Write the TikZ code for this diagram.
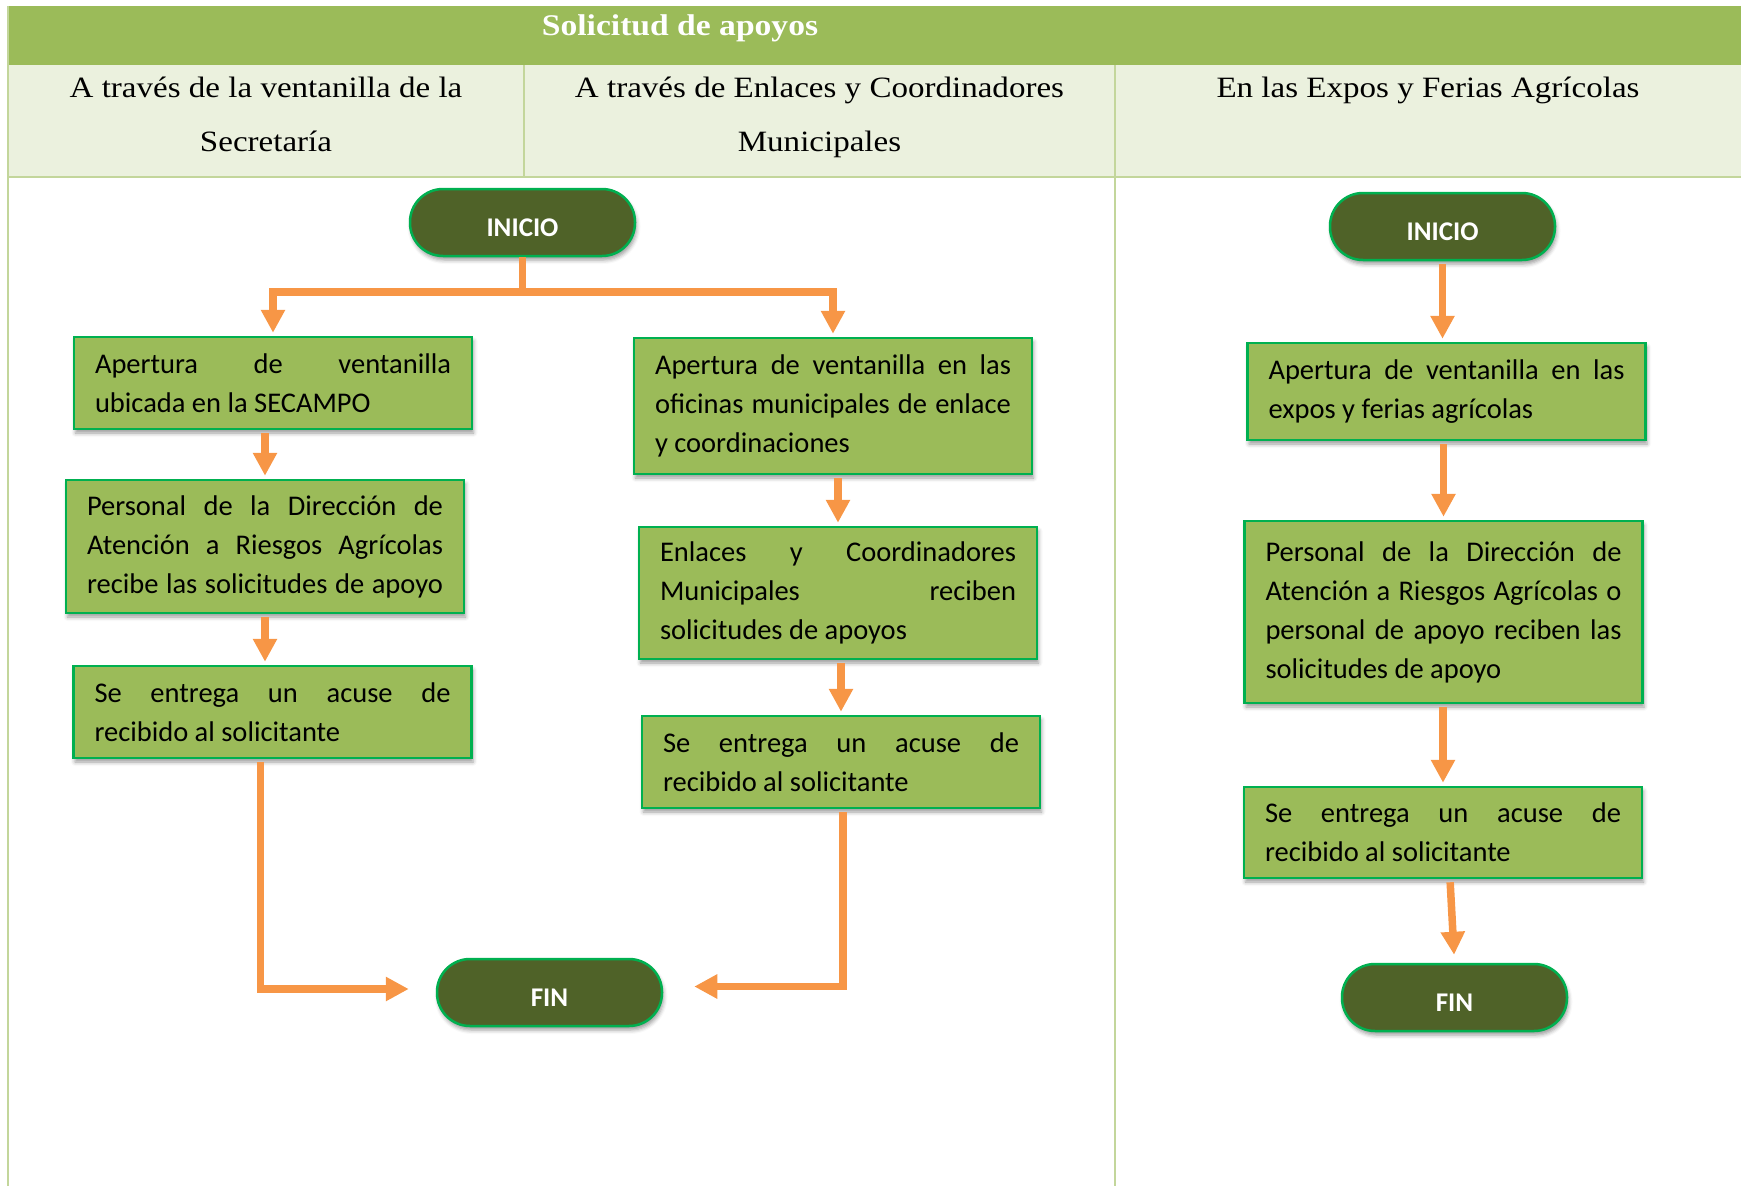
\documentclass[tikz,border=0pt]{standalone}
\usepackage{fontspec}
\setmainfont{Carlito}
\newfontfamily\headfont[FakeStretch=1.12]{Liberation Serif}
\usetikzlibrary{arrows.meta,shadows.blur,calc}

\definecolor{bandgreen}{HTML}{9BBB59}
\definecolor{paleband}{HTML}{EBF1DE}
\definecolor{gridline}{HTML}{C3D69B}
\definecolor{boxfill}{HTML}{9BBB59}
\definecolor{boxline}{HTML}{00B050}
\definecolor{termfill}{HTML}{4F6228}
\definecolor{flow}{HTML}{F79646}

% one justified line / one plain line inside a step box
\newcommand{\jline}[1]{\noindent\hbox to \hsize{\spaceskip=0pt\relax #1}\par}
\newcommand{\lline}[1]{\noindent\hbox to \hsize{#1\hfil}\par}

\tikzset{
  softshadow/.style={blur shadow={shadow xshift=1.5pt, shadow yshift=-4pt,
      shadow blur radius=4pt, shadow opacity=40}},
  stepbox/.style={rectangle, fill=boxfill, draw=boxline, line width=2.5pt,
    text width=356pt, inner xsep=21pt, inner ysep=0pt, align=justify,
    font=\fontsize{28.5}{39}\selectfont,
    text=black, softshadow},
  terminal/.style={rectangle, rounded corners=33pt, fill=termfill, draw=boxline,
    line width=2.5pt, minimum width=225pt, minimum height=67pt, inner sep=0pt,
    text height=28.8pt, text depth=0pt,
    text=white, font=\fontsize{27}{30}\selectfont\bfseries, softshadow},
  flowline/.style={draw=flow, line width=7.5pt},
  flowarrow/.style={flowline, -{Triangle[width=23pt,length=23pt]},
    shorten <=3pt, shorten >=3pt},
  headtext/.style={font=\headfont\fontsize{29.5}{30}\selectfont, anchor=base,
    inner sep=0pt, text=black},
  titletext/.style={font=\headfont\bfseries\fontsize{30}{32}\selectfont,
    anchor=base, inner sep=0pt, text=white},
  rule/.style={draw=gridline, line width=2pt},
}

\begin{document}
\begin{tikzpicture}[x=1pt, y=-1pt]
  \useasboundingbox (0,0) rectangle (1741,1186);

  % table header bands
  \fill[bandgreen] (8,6) rectangle (1741,65);
  \fill[paleband] (8,65) rectangle (1741,177);
  \draw[rule] (8,6) -- (8,1186);
  \draw[rule] (8,177) -- (1741,177);
  \draw[rule] (524,65) -- (524,177);
  \draw[rule] (1115,65) -- (1115,1186);

  \node[titletext] (title) at (680,35) {Solicitud de apoyos};
  \node[headtext] (colAa) at (266,97) {A través de la ventanilla de la};
  \node[headtext] (colAb) at (266,151) {Secretaría};
  \node[headtext] (colBa) at (819.5,97) {A través de Enlaces y Coordinadores};
  \node[headtext] (colBb) at (819.5,151) {Municipales};
  \node[headtext] (colC) at (1428,97) {En las Expos y Ferias Agrícolas};

  % left and middle flows
  \node[terminal] (iniL) at (522.5,222.5) {INICIO};
  \node[stepbox, minimum height=92pt] (L1) at (273,383)
    {\jline{Apertura de ventanilla}\lline{ubicada en la SECAMPO}};
  \node[stepbox, minimum height=133pt] (L2) at (265,546.5)
    {\jline{Personal de la Dirección de}\jline{Atención a Riesgos Agrícolas}\jline{recibe las solicitudes de apoyo}};
  \node[stepbox, minimum height=92pt] (L3) at (272.5,712)
    {\jline{Se entrega un acuse de}\lline{recibido al solicitante}};

  \node[stepbox, minimum height=136pt] (M1) at (833,406)
    {\jline{Apertura de ventanilla en las}\jline{oficinas municipales de enlace}\lline{y coordinaciones}};
  \node[stepbox, minimum height=132pt] (M2) at (838,593)
    {\jline{Enlaces y Coordinadores}\jline{Municipales reciben}\lline{solicitudes de apoyos}};
  \node[stepbox, minimum height=92pt] (M3) at (841,762)
    {\jline{Se entrega un acuse de}\lline{recibido al solicitante}};

  \node[terminal] (finM) at (549.5,992.5) {FIN};

  % right flow
  \node[terminal] (iniR) at (1442.5,226.5) {INICIO};
  \node[stepbox, minimum height=97pt] (R1) at (1446.5,391.5)
    {\jline{Apertura de ventanilla en las}\lline{expos y ferias agrícolas}};
  \node[stepbox, minimum height=182pt] (R2) at (1443.5,612)
    {\jline{Personal de la Dirección de}\jline{Atención a Riesgos Agrícolas o}\jline{personal de apoyo reciben las}\lline{solicitudes de apoyo}};
  \node[stepbox, minimum height=91pt] (R3) at (1443,832.5)
    {\jline{Se entrega un acuse de}\lline{recibido al solicitante}};
  \node[terminal] (finR) at (1454.5,997.5) {FIN};

  % connectors
  \coordinate (fork) at (522.5,292);
  \draw[flowline] (iniL.south) -- (fork);
  \draw[flowline, {Triangle[width=23pt,length=23pt]}-{Triangle[width=23pt,length=23pt]},
    shorten <=3pt, shorten >=3pt] (L1.north) |- (fork) -| (M1.north);

  \draw[flowarrow] (L1.south -| L2.north) -- (L2.north);
  \draw[flowarrow] ([xshift=-7.5pt]L3.north |- L2.south) -- ([xshift=-7.5pt]L3.north);
  \draw[flowarrow, shorten >=27pt] ([xshift=-12pt]L3.south) |- ([yshift=3.5pt]finM.west);

  \draw[flowarrow] (M2.north |- M1.south) -- (M2.north);
  \draw[flowarrow] (M3.north |- M2.south) -- (M3.north);
  \draw[flowarrow, shorten >=31pt] ([xshift=2pt]M3.south) |- ([yshift=6pt]finM.east);

  \draw[flowarrow] (iniR.south) -- (iniR.south |- R1.north);
  \draw[flowarrow] (R2.north |- R1.south) -- (R2.north);
  \draw[flowarrow] (R3.north |- R2.south) -- (R3.north);
  \draw[flowarrow, shorten >=8pt] ([xshift=7pt]R3.south) -- (finR.north);
\end{tikzpicture}
\end{document}
